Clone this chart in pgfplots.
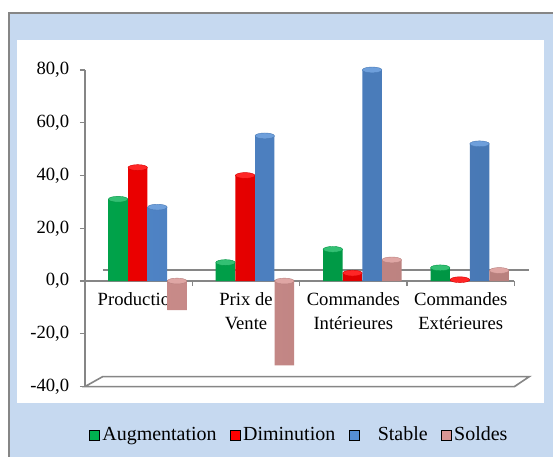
\documentclass[border=0pt]{standalone}
\usepackage{pgfplots}
\pgfplotsset{compat=1.18}
\usepackage{pgfplotstable}
\usepackage{fontspec}
\setmainfont{Liberation Serif}

\definecolor{cgreen}{RGB}{0,176,80}
\definecolor{cred}{RGB}{255,0,0}
\definecolor{cblue}{RGB}{85,142,213}
\definecolor{cpink}{RGB}{217,150,148}
\definecolor{frameblue}{RGB}{198,217,240}
\definecolor{axgray}{RGB}{134,134,134}

% one row per category (x = index), columns = series
\pgfplotstableread{
x aug dim stab sold
0 31 43 28 -11
1 7 40 55 -32
2 12 3 80 8
3 5 0.5 52 4
}\datatab

\begin{document}
\begin{tikzpicture}[x=0.75pt,y=0.75pt]
% frame
\fill[white] (0,0) rectangle (554,457);
\fill[frameblue] (9,0) rectangle (554,444);
\draw[axgray, line width=0.9pt] (9,0) -- (9,444) -- (554,444);
\fill[white] (17,54) rectangle (545,417);

\begin{axis}[
    at={(63.75pt,52.5pt)}, anchor=south west,
    scale only axis, width=322.5pt, height=237.75pt,
    xmin=-0.5, xmax=3.5, ymin=-40, ymax=80,
    clip=false,
    axis x line*=middle, axis y line*=left,
    axis line style={axgray, line width=1.2pt},
    tick align=outside,
    major tick length=3.75pt, minor tick length=3.75pt,
    tick style={axgray, line width=1pt},
    xtick={0,1,2,3},
    minor xtick={-0.5,0.5,1.5,2.5,3.5},
    major x tick style={draw=none},
    xticklabels={Production, Prix de\\Vente, Commandes\\Intérieures, Commandes\\Extérieures},
    xticklabel style={align=center, anchor=north, yshift=-1pt, font=\fontsize{14}{18.5}\selectfont},
    ytick={-40,-20,...,80},
    /pgf/number format/assume math mode=true,
    yticklabel style={font=\fontsize{14}{16}\selectfont, xshift=-4.5pt,
        /pgf/number format/fixed, /pgf/number format/fixed zerofill,
        /pgf/number format/precision=1, /pgf/number format/use comma},
    legend image code/.code={\fill[#1] (0pt,-3.75pt) rectangle (7.5pt,3.75pt);},
    legend style={at={(0.5,-0.153)}, anchor=center, draw=none, fill=none,
        font=\fontsize{15}{17}\selectfont,
        /tikz/every even column/.append style={column sep=8pt}},
    legend columns=-1,
]
% pseudo 3D back line and floor
\draw[axgray, line width=1.2pt] (axis cs:-0.333,4.2) -- (axis cs:3.64,4.2);
\draw[axgray, line width=1.2pt] (axis cs:-0.5,-40) -- (axis cs:-0.333,-36.2) -- (axis cs:3.64,-36.2) -- (axis cs:3.5,-40) -- cycle;

% Augmentation
\addplot[ybar, bar width=14.6pt, bar shift=0pt, draw=none, forget plot,
    left color=cgreen!92!black, middle color=cgreen!70!white, right color=cgreen!85!black]
    table[x expr=\thisrow{x}-0.191, y=aug]{\datatab};
\addplot[only marks, mark=*, mark size=7.3pt, forget plot,
    mark options={yscale=0.3, draw=cgreen!85!black, fill=cgreen!80!white, line width=0.3pt}]
    table[x expr=\thisrow{x}-0.191, y expr={max(\thisrow{aug},0)}]{\datatab};
% Diminution
\addplot[ybar, bar width=14.6pt, bar shift=0pt, draw=none, forget plot,
    left color=cred!92!black, middle color=cred!75!white, right color=cred!85!black]
    table[x expr=\thisrow{x}-0.008, y=dim]{\datatab};
\addplot[only marks, mark=*, mark size=7.3pt, forget plot,
    mark options={yscale=0.3, draw=cred!85!black, fill=cred!85!white, line width=0.3pt}]
    table[x expr=\thisrow{x}-0.008, y expr={max(\thisrow{dim},0)}]{\datatab};
% Stable
\addplot[ybar, bar width=14.6pt, bar shift=0pt, draw=none, forget plot,
    left color=cblue!92!black, middle color=cblue!70!white, right color=cblue!85!black]
    table[x expr=\thisrow{x}+0.175, y=stab]{\datatab};
\addplot[only marks, mark=*, mark size=7.3pt, forget plot,
    mark options={yscale=0.3, draw=cblue!85!black, fill=cblue!85!white, line width=0.3pt}]
    table[x expr=\thisrow{x}+0.175, y expr={max(\thisrow{stab},0)}]{\datatab};
% Soldes
\addplot[ybar, bar width=14.6pt, bar shift=0pt, draw=none, forget plot,
    left color=cpink!92!black, middle color=cpink!70!white, right color=cpink!85!black]
    table[x expr=\thisrow{x}+0.358, y=sold]{\datatab};
\addplot[only marks, mark=*, mark size=7.3pt, forget plot,
    mark options={yscale=0.3, draw=cpink!85!black, fill=cpink!85!white, line width=0.3pt}]
    table[x expr=\thisrow{x}+0.358, y expr={max(\thisrow{sold},0)}]{\datatab};

\addlegendimage{fill=cgreen}
\addlegendentry{Augmentation}
\addlegendimage{fill=cred}
\addlegendentry{Diminution}
\addlegendimage{fill=cblue}
\addlegendentry{\hspace{12pt}Stable}
\addlegendimage{fill=cpink}
\addlegendentry{Soldes}
\end{axis}
\end{tikzpicture}
\end{document}
